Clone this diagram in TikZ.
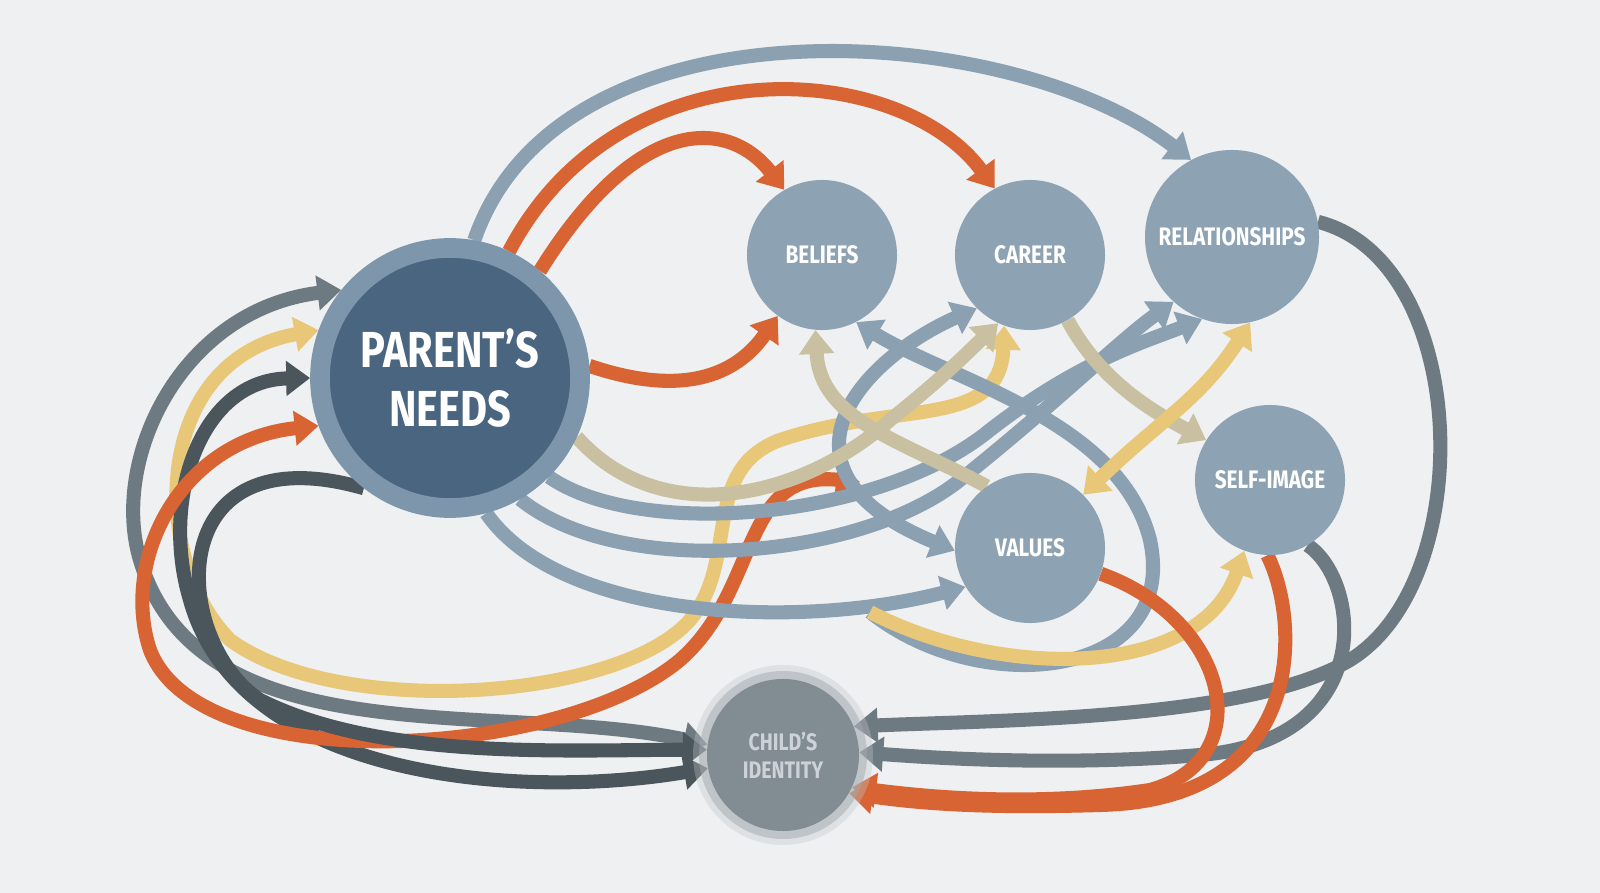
\documentclass[tikz,border=0pt]{standalone}
\usepackage{fontspec}
\setsansfont{Fira Sans}[FakeStretch=0.82]
\usetikzlibrary{arrows.meta,backgrounds}
\definecolor{bg_gray}{RGB}{238,240,242}
\definecolor{flow_orange}{RGB}{216,100,52}
\definecolor{flow_blue}{RGB}{139,160,177}
\definecolor{flow_gray}{RGB}{110,122,130}
\definecolor{flow_dark}{RGB}{75,85,92}
\definecolor{flow_yellow}{RGB}{232,200,120}
\definecolor{flow_beige}{RGB}{200,192,160}
\definecolor{ring_blue}{RGB}{125,150,172}
\definecolor{core_blue}{RGB}{74,101,128}
\definecolor{node_blue}{RGB}{141,162,179}
\definecolor{child_gray}{RGB}{130,140,147}
\definecolor{child_text}{RGB}{205,210,214}

\begin{document}
\begin{tikzpicture}[x=0.025cm,y=-0.025cm,
    head/.style={-{Triangle[length=17pt,width=24pt]}},
    both/.style={{Triangle[length=17pt,width=24pt]}-{Triangle[length=17pt,width=24pt]}},
    flow/.style={line width=10pt,head},
    topic/.style={circle,fill=node_blue,minimum size=3.75cm,text=white,font=\sffamily\bfseries\fontsize{18}{20}\selectfont}]
    \useasboundingbox (0,0) rectangle (1600,893);
    \node[circle,fill=core_blue,draw=ring_blue,line width=14pt,minimum size=6.5cm,
          text=white,align=center,font=\sffamily\bfseries\fontsize{36}{42}\selectfont] (P) at (450,378) {PARENT'S\\NEEDS};
    \node[topic] (B) at (822,255) {BELIEFS};
    \node[topic] (C) at (1030,255) {CAREER};
    \node[topic,minimum size=4.35cm] (R) at (1232,237) {RELATIONSHIPS};
    \node[topic] (S) at (1270,480) {SELF-IMAGE};
    \node[topic] (V) at (1030,548) {VALUES};
    \fill[child_gray!50,opacity=0.35] (783,755) circle (90);
    \fill[child_gray!75,opacity=0.5] (783,755) circle (84);
    \node[circle,fill=child_gray,minimum size=3.8cm,align=center,text=child_text,
          font=\sffamily\bfseries\fontsize{17}{20}\selectfont] (I) at (783,755) {CHILD'S\\IDENTITY};
    \coordinate (m1) at (870,612);

    \begin{scope}[on background layer]
    \fill[bg_gray] (0,0) rectangle (1600,893);
    % top arcs
    \draw[flow,flow_blue] (P.80) .. controls (560,-10) and (1010,20) .. (R.118);
    \draw[flow,flow_orange] (P.65) .. controls (620,40) and (900,60) .. (C.118);
    \draw[flow,flow_orange] (P.50) .. controls (640,110) and (730,120) .. (B.120);
    \draw[flow,flow_orange] (P.5) .. controls (690,400) and (740,370) .. (B.234);
    % left loops
    \draw[line width=10pt,both,flow_gray] (P.141) .. controls (180,310) and (110,460) .. (140,560) .. controls (200,760) and (500,700) .. (I.172);
    \draw[line width=10pt,both,flow_yellow] (P.160) .. controls (150,360) and (150,560) .. (230,640) .. controls (340,720) and (620,700) .. (690,620) .. controls (740,560) and (700,470) .. (780,440) .. controls (900,400) and (1000,430) .. (C.250);
    \draw[line width=10pt,both,flow_dark] (P.180) .. controls (200,380) and (160,500) .. (190,600) .. controls (240,780) and (520,800) .. (I.190);
    \draw[line width=10pt,both,flow_orange] (P.200) .. controls (180,440) and (120,560) .. (150,650) .. controls (200,780) and (560,760) .. (680,660) .. controls (760,590) and (740,470) .. (860,482);
    \draw[flow,flow_dark] (P.232) .. controls (160,430) and (170,640) .. (260,700) .. controls (380,760) and (560,750) .. (I.176);
    % middle weave
    \draw[flow,flow_blue] (P.300) .. controls (620,580) and (860,560) .. (960,480) .. controls (1060,400) and (1120,340) .. (R.228);
    \draw[flow,flow_blue] (P.315) .. controls (640,540) and (880,520) .. (990,430) .. controls (1080,360) and (1150,340) .. (R.250);
    \draw[flow,flow_blue] (P.285) .. controls (560,620) and (800,630) .. (V.211);
    \draw[line width=10pt,both,flow_blue] (C.225) .. controls (860,360) and (760,470) .. (V.182);
    \draw[flow,flow_blue] (m1) .. controls (980,700) and (1180,680) .. (1150,540) .. controls (1120,420) and (950,380) .. (B.297);
    \draw[flow,flow_beige] (P.335) .. controls (660,530) and (800,500) .. (890,420) .. controls (940,380) and (960,360) .. (C.245);
    \draw[flow,flow_beige] (V.125) .. controls (900,440) and (820,420) .. (B.265);
    \draw[flow,flow_beige] (C.300) .. controls (1100,380) and (1150,410) .. (S.148);
    \draw[line width=10pt,both,flow_yellow] (V.45) .. controls (1160,420) and (1200,400) .. (R.282);
    \draw[flow,flow_yellow] (m1) .. controls (1000,680) and (1200,680) .. (S.250);
    % right side into child
    \draw[flow,flow_gray] (R.10) .. controls (1470,260) and (1480,580) .. (1350,660) .. controls (1250,720) and (1000,720) .. (I.22);
    \draw[flow,flow_gray] (S.300) .. controls (1360,580) and (1380,740) .. (1200,755) .. controls (1080,765) and (960,760) .. (I.2);
    \draw[flow,flow_orange] (S.268) .. controls (1300,620) and (1310,800) .. (1100,805) .. controls (1000,808) and (930,805) .. (I.330);
    \draw[flow,flow_orange] (V.340) .. controls (1230,620) and (1260,760) .. (1150,790) .. controls (1050,805) and (950,800) .. (I.335);
    \end{scope}
\end{tikzpicture}
\end{document}
